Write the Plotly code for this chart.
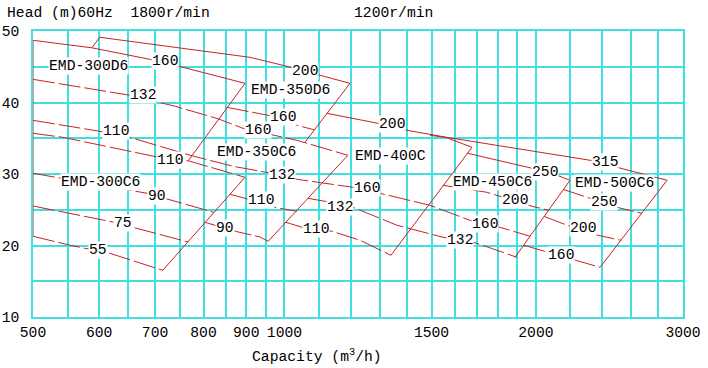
import numpy as np
import plotly.graph_objects as go

# ---------------- data (capacity m3/h, head m) ----------------
x_grid = [500, 550, 600, 650, 700, 750, 800, 850, 900, 950, 1000, 1100, 1200, 1300, 1400,
          1500, 1600, 1700, 1800, 1900, 2000, 2200, 2400, 2600, 2800, 3000]
x_labeled = [500, 600, 700, 800, 900, 1000, 1500, 2000, 3000]
y_grid = [10, 15, 20, 25, 30, 35, 40, 45, 50]
y_labeled = [10, 20, 30, 40, 50]

# 1800 r/min group
d300_160_x = [500, 588, 690, 756, 897]
d300_160_y = [48.70, 47.65, 46.04, 44.92, 42.68]
d350_left_x = [588, 601]
d350_left_y = [47.65, 49.12]
d350_200_x = [601, 909, 996, 1106, 1198]
d350_200_y = [49.12, 46.32, 45.20, 43.80, 42.68]
d300_right_x = [897, 767]
d300_right_y = [42.68, 31.85]
d300_132_x = [500, 653, 740, 833, 892, 974, 1035, 1191]
d300_132_y = [43.24, 41.01, 39.47, 37.72, 36.39, 35.41, 34.71, 32.62]
d350_right_x = [1198, 1058]
d350_right_y = [42.68, 34.43]
d350_160_x = [853, 956, 1035, 1085]
d350_160_y = [39.33, 38.21, 36.81, 36.18]
d300_110_x = [500, 601, 659, 771, 868, 950, 1035, 1208, 1301, 1494, 1668, 1811, 1968]
d300_110_y = [37.51, 35.97, 34.99, 32.62, 31.08, 30.24, 29.26, 28.14, 27.30, 25.62, 23.52, 22.55, 21.29]

# 1200 r/min group
left_edge_x = [500, 500]
left_edge_y = [48.70, 21.29]
c300_110_x = [500, 543, 704, 767, 897]
c300_110_y = [35.69, 35.13, 32.38, 31.85, 29.54]
c300_right_x = [897, 715]
c300_right_y = [29.54, 16.53]
c300_90_x = [500, 685, 823]
c300_90_y = [30.10, 27.30, 24.64]
c300_75_x = [500, 623, 767]
c300_75_y = [25.52, 23.29, 20.49]
c300_55_x = [500, 554, 618, 715]
c300_55_y = [21.29, 20.03, 18.91, 16.53]
c350_right_x = [1191, 956]
c350_right_y = [32.62, 20.59]
c350_110_x = [861, 897, 974, 1010, 1035]
c350_110_y = [27.16, 26.60, 25.34, 25.06, 24.78]
c350_90_x = [803, 880, 935, 956]
c350_90_y = [23.24, 21.89, 21.19, 20.59]
c400_200_x = [1124, 1294, 1402, 1557, 1677]
c400_200_y = [38.49, 37.09, 36.11, 35.17, 33.73]
c400_right_x = [1677, 1341]
c400_right_y = [33.73, 18.63]
c400_132_x = [1067, 1118, 1208, 1364, 1548, 1700, 1898]
c400_132_y = [26.60, 26.18, 25.34, 22.83, 21.15, 20.31, 18.35]
c400_110_x = [1004, 1050, 1140, 1232, 1341]
c400_110_y = [23.24, 22.55, 21.99, 20.73, 18.63]
c500_315_x = [1494, 1591, 2322, 2501, 2871]
c500_315_y = [35.41, 34.99, 31.92, 30.94, 29.12]
c450_250_x = [1656, 1979, 2120, 2197]
c450_250_y = [32.90, 30.80, 29.83, 29.12]
c450_right_x = [2197, 1888]
c450_right_y = [29.12, 18.35]
c450_200_x = [1548, 1748, 1979, 2074]
c450_200_y = [28.42, 27.44, 25.48, 24.92]
c500_right_x = [2871, 2387]
c500_right_y = [29.12, 16.95]
c500_250_x = [2155, 2303, 2501, 2680]
c500_250_y = [27.86, 26.74, 25.34, 24.50]
c500_200_x = [2045, 2179, 2373, 2529]
c500_200_y = [24.08, 22.83, 21.43, 20.73]
c500_160_x = [1935, 2062, 2228, 2387]
c500_160_y = [20.03, 19.12, 17.93, 16.95]

# kW labels
kw_text = ["160", "132", "110", "110", "200", "160", "160", "90", "75", "55", "132", "110", "90",
           "200", "160", "132", "110", "132", "160", "200", "250", "315", "250", "200", "160"]
kw_x = [720, 677, 629, 729, 1058, 996, 930, 704, 641, 598, 993, 937, 849,
        1345, 1256, 1165, 1091, 1622, 1738, 1888, 2051, 2420, 2413, 2277, 2143]
kw_y = [45.76, 41.01, 35.97, 31.92, 44.36, 37.93, 36.11, 26.88, 23.10, 19.33, 29.83, 26.32, 22.41,
        36.95, 28.00, 25.34, 22.27, 20.73, 22.97, 26.32, 30.24, 31.64, 26.04, 22.41, 18.63]

# model labels
model_text = ["EMD-300D6", "EMD-350D6", "EMD-350C6", "EMD-300C6", "EMD-400C", "EMD-450C6", "EMD-500C6"]
model_x = [582, 1018, 927, 603, 1341, 1772, 2487]
model_y = [45.06, 41.71, 33.04, 28.84, 32.48, 28.84, 28.70]

# ---------------- figure ----------------
RED = "#cc2020"
CYAN = "#40e0e0"
FONT = "Liberation Mono"
FS = 14.7

curves = [
    (d300_160_x, d300_160_y, False), (d350_left_x, d350_left_y, False),
    (d350_200_x, d350_200_y, False), (d300_right_x, d300_right_y, False),
    (d300_132_x, d300_132_y, True), (d350_right_x, d350_right_y, False),
    (d350_160_x, d350_160_y, True), (d300_110_x, d300_110_y, True),
    (left_edge_x, left_edge_y, False), (c300_110_x, c300_110_y, True),
    (c300_right_x, c300_right_y, False), (c300_90_x, c300_90_y, True),
    (c300_75_x, c300_75_y, True), (c300_55_x, c300_55_y, True),
    (c350_right_x, c350_right_y, False), (c350_110_x, c350_110_y, True),
    (c350_90_x, c350_90_y, True), (c400_200_x, c400_200_y, False),
    (c400_right_x, c400_right_y, False), (c400_132_x, c400_132_y, True),
    (c400_110_x, c400_110_y, True), (c500_315_x, c500_315_y, False),
    (c450_250_x, c450_250_y, False), (c450_right_x, c450_right_y, False),
    (c450_200_x, c450_200_y, True), (c500_right_x, c500_right_y, False),
    (c500_250_x, c500_250_y, True), (c500_200_x, c500_200_y, True),
    (c500_160_x, c500_160_y, True),
]

fig = go.Figure()
for xs, ys, dashed in curves:
    fig.add_trace(go.Scatter(
        x=xs, y=ys, mode="lines", showlegend=False, hoverinfo="skip",
        line=dict(color=RED, width=1, dash="22px,4px" if dashed else "solid"),
    ))

annotations = []
for t, xv, yv in zip(kw_text + model_text, kw_x + model_x, kw_y + model_y):
    annotations.append(dict(
        x=np.log10(xv), y=yv, xref="x", yref="y", text=t, showarrow=False,
        font=dict(family=FONT, size=FS, color="black"),
        bgcolor="white", borderpad=0, xanchor="center", yanchor="middle",
    ))

annotations += [
    dict(x=-0.0431, y=1.063, xref="paper", yref="paper", text="Head (m)60Hz\u00a0\u00a01800r/min",
         showarrow=False, xanchor="left", yanchor="middle",
         font=dict(family=FONT, size=FS, color="black")),
    dict(x=0.4908, y=1.063, xref="paper", yref="paper", text="1200r/min",
         showarrow=False, xanchor="left", yanchor="middle",
         font=dict(family=FONT, size=FS, color="black")),
    dict(x=0.4369, y=-0.133, xref="paper", yref="paper", text="Capacity (m<sup>3</sup>/h)",
         showarrow=False, xanchor="center", yanchor="middle",
         font=dict(family=FONT, size=FS, color="black")),
]

fig.update_layout(
    width=708, height=368,
    margin=dict(l=33, r=25, t=31, b=51, pad=0),
    paper_bgcolor="white", plot_bgcolor="white",
    annotations=annotations,
    font=dict(family=FONT, size=FS, color="black"),
    xaxis=dict(
        type="log", range=[np.log10(500), np.log10(3000)],
        tickmode="array", tickvals=x_grid,
        ticktext=[str(v) if v in x_labeled else "" for v in x_grid],
        showgrid=True, gridcolor=CYAN, gridwidth=1.5,
        showline=True, linecolor=CYAN, linewidth=1.5, mirror=True,
        ticks="outside", ticklen=1, tickcolor="rgba(0,0,0,0)",
        zeroline=False, automargin=False,
        tickfont=dict(family=FONT, size=FS, color="black"),
    ),
    yaxis=dict(
        range=[10, 50], tickmode="array", tickvals=y_grid,
        ticktext=[str(v) if v in y_labeled else "" for v in y_grid],
        showgrid=True, gridcolor=CYAN, gridwidth=1.5,
        showline=True, linecolor=CYAN, linewidth=1.5, mirror=True,
        ticks="outside", ticklen=9, tickcolor="rgba(0,0,0,0)",
        zeroline=False, automargin=False,
        tickfont=dict(family=FONT, size=FS, color="black"),
    ),
)

fig.write_html("out.html")
